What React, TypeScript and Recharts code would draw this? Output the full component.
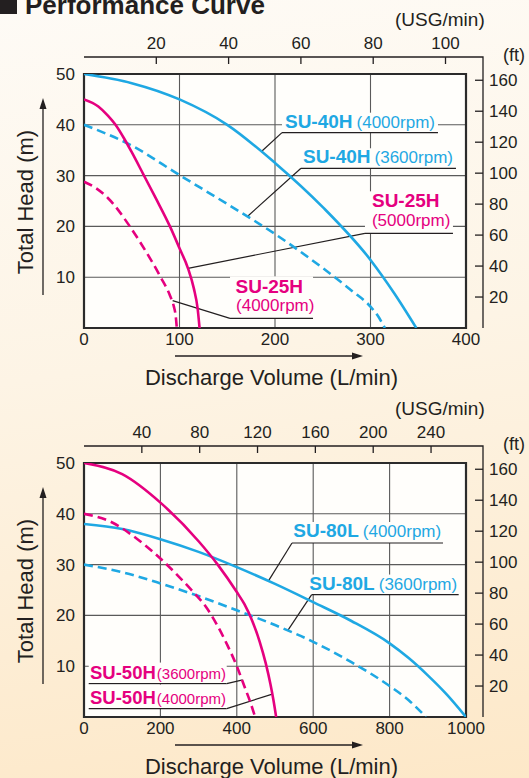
import React from 'react';
import {
  CartesianGrid,
  ComposedChart,
  Line,
  ReferenceArea,
  ReferenceDot,
  ReferenceLine,
  XAxis,
  YAxis,
} from 'recharts';

const CYAN = '#1fa8e3';
const MAGENTA = '#e5007f';
const INK = '#231f20';
const GRID = '#5a5a5a';
const PLOT_BG = '#fffefb';
const FONT = '"Liberation Sans", Arial, Helvetica, sans-serif';

const M_TO_FT = 3.28084;
const L_PER_USG = 3.78541;

// common axes
const HEAD_TICKS = [10, 20, 30, 40, 50];
const FT_TICKS = [20, 40, 60, 80, 100, 120, 140, 160];

// upper chart: SU-40H / SU-25H
const FLOW_TICKS_1 = [0, 100, 200, 300, 400];
const USG_TICKS_1 = [20, 40, 60, 80, 100];

const FLOW_40H_4000 = [0, 50, 100, 150, 200, 250, 300, 325, 348];
const HEAD_40H_4000 = [50, 48.2, 45, 40, 32.5, 23.8, 13.4, 6.8, 0];
const FLOW_40H_3600 = [0, 50, 100, 150, 200, 250, 280, 300, 308, 315];
const HEAD_40H_3600 = [40, 35.9, 30.1, 24.4, 18.5, 11.8, 7.4, 4.2, 2.3, 0];
const FLOW_25H_5000 = [0, 15, 25, 33, 42, 50, 62, 75, 90, 100, 109, 115, 119, 121];
const HEAD_25H_5000 = [45, 43.6, 41.8, 40, 37.3, 34.6, 30.3, 25.6, 20, 15.7, 11.7, 7.8, 3.8, 0];
const FLOW_25H_4000 = [0, 12, 25, 48, 65, 80, 90, 94, 96, 97.2];
const HEAD_25H_4000 = [28.8, 27.6, 25.6, 20, 15, 10.1, 6.4, 4.3, 2.4, 0];

// lower chart: SU-80L / SU-50H
const FLOW_TICKS_2 = [0, 200, 400, 600, 800, 1000];
const USG_TICKS_2 = [40, 80, 120, 160, 200, 240];

const FLOW_80L_4000 = [0, 100, 200, 300, 400, 500, 600, 700, 800, 850, 900, 950, 1000];
const HEAD_80L_4000 = [38, 37, 35, 32.5, 29.5, 26.2, 22.6, 18.9, 14.5, 11.6, 8.2, 4.4, 0];
const FLOW_80L_3600 = [0, 100, 200, 300, 400, 500, 600, 700, 800, 850, 895];
const HEAD_80L_3600 = [30, 28.5, 26.3, 23.8, 21, 18.1, 14.8, 10.8, 6.1, 3.3, 0];
const FLOW_50H_4000 = [0, 100, 200, 300, 350, 400, 420, 440, 460, 476, 488, 496, 503];
const HEAD_50H_4000 = [50, 47.8, 42.2, 34.6, 30, 24.6, 22.2, 19, 14.8, 10.5, 6.5, 3.3, 0];
const FLOW_50H_3600 = [0, 68, 140, 200, 250, 286, 320, 347, 375, 400, 421, 435, 448];
const HEAD_50H_3600 = [40, 38.5, 35, 31.2, 27.5, 24.6, 21.6, 18.3, 14.2, 10, 5.8, 3, 0];

const pts = (q: number[], h: number[]) => q.map((v, i) => ({ q: v, h: h[i] }));

// layout
const W = 529;
const LEFT_W = 84;
const RIGHT_W = 63;
const TOP_H = 74;
const PLOT_H = 254;
const BOTTOM_H = 30;
const CHART_H = TOP_H + PLOT_H + BOTTOM_H;
const OFF = 17; // gap between plot frame and the USG / ft scales
const PLOT_L = LEFT_W;
const PLOT_R = W - RIGHT_W;
const CHART_TOPS = [0, 389];

// USG/min scale on top, drawn from the flow scale
const usgTickShape = (value: number) => (props: any) => {
  const { x1, y1, y2 } = props;
  const ay = Math.min(y1, y2) - OFF;
  return (
    <g>
      <line x1={x1} x2={x1} y1={ay} y2={ay + 7} stroke={INK} strokeWidth={1.3} />
      <text x={x1} y={ay - 8.5} textAnchor="middle" fontSize={17} fill={INK} fontFamily={FONT}>
        {value}
      </text>
    </g>
  );
};

const RightTick = (props: any) => {
  const { x, y, payload } = props;
  const ax = x + OFF;
  return (
    <g>
      <line x1={ax - 8} x2={ax} y1={y} y2={y} stroke={INK} strokeWidth={1.3} />
      <text x={ax + 6} y={y} dy="0.36em" textAnchor="start" fontSize={17} fill={INK} fontFamily={FONT}>
        {payload.value}
      </text>
    </g>
  );
};

interface Row {
  dx: number;
  dy: number;
  name?: string;
  rpm?: string;
  nameSize?: number;
  rpmSize?: number;
  gap?: number;
}

interface Callout {
  at: [number, number];
  to: [number, number];
  len: number;
  boxH: number;
  color: string;
  rows: Row[];
}

const LABELS_1: Callout[] = [
  { at: [207.3, 38.45], to: [186.4, 34.84], len: 156, boxH: 20, color: CYAN,
    rows: [{ dx: 3, dy: -5, name: 'SU-40H', rpm: '(4000rpm)' }] },
  { at: [227.2, 31.44], to: [171.7, 22.05], len: 155, boxH: 20, color: CYAN,
    rows: [{ dx: 2, dy: -5.5, name: 'SU-40H', rpm: '(3600rpm)' }] },
  { at: [294.2, 18.64], to: [108.9, 11.75], len: 88, boxH: 42, color: MAGENTA,
    rows: [{ dx: 7, dy: -26.6, name: 'SU-25H' }, { dx: 7, dy: -7.5, rpm: '(5000rpm)', gap: 0 }] },
  { at: [152.9, 1.9], to: [92.8, 5.4], len: 83, boxH: 42, color: MAGENTA,
    rows: [{ dx: 5.5, dy: -25, name: 'SU-25H' }, { dx: 6, dy: -7, rpm: '(4000rpm)', gap: 0 }] },
];

const LABELS_2: Callout[] = [
  { at: [544.5, 34.25], to: [482.5, 26.74], len: 151, boxH: 21, color: CYAN,
    rows: [{ dx: 1.3, dy: -6, name: 'SU-80L', rpm: '(4000rpm)' }] },
  { at: [596, 24.1], to: [533.2, 17.0], len: 147, boxH: 20, color: CYAN,
    rows: [{ dx: -2.4, dy: -4.5, name: 'SU-80L', rpm: '(3600rpm)' }] },
  { at: [373.6, 6.58], to: [415.4, 7.3], len: -138, boxH: 21, color: MAGENTA,
    rows: [{ dx: -136.7, dy: -5, name: 'SU-50H', rpm: '(3600rpm)', nameSize: 18.5, rpmSize: 15, gap: 1 }] },
  { at: [373.6, 1.64], to: [493, 4.5], len: -138, boxH: 24, color: MAGENTA,
    rows: [{ dx: -136.7, dy: -4.5, name: 'SU-50H', rpm: '(4000rpm)', nameSize: 18.5, rpmSize: 15, gap: 1 }] },
];

const calloutShape = (c: Callout) => (props: any) => {
  const { cx, cy } = props;
  const x0 = c.len > 0 ? cx : cx + c.len;
  const w = Math.abs(c.len);
  return (
    <g>
      <rect x={x0} y={cy - c.boxH} width={w} height={c.boxH} fill={PLOT_BG} />
      <line x1={x0} x2={x0 + w} y1={cy} y2={cy} stroke={INK} strokeWidth={1.2} />
      {c.rows.map((r, i) => (
        <text key={i} x={cx + r.dx} y={cy + r.dy} fill={c.color} fontFamily={FONT}>
          {r.name && (
            <tspan fontWeight="bold" fontSize={r.nameSize ?? 19}>
              {r.name}
            </tspan>
          )}
          {r.rpm && (
            <tspan fontSize={r.rpmSize ?? 17} dx={r.name ? r.gap ?? 4 : 0}>
              {r.rpm}
            </tspan>
          )}
        </text>
      ))}
    </g>
  );
};

interface Series {
  name: string;
  data: { q: number; h: number }[];
  color: string;
  dashed: boolean;
}

interface PumpChartProps {
  maxFlow: number;
  flowTicks: number[];
  usgTicks: number[];
  series: Series[];
  labels: Callout[];
}

const PumpChart: React.FC<PumpChartProps> = ({ maxFlow, flowTicks, usgTicks, series, labels }) => (
  <ComposedChart width={W} height={CHART_H} margin={{ top: TOP_H, right: 0, bottom: 0, left: 0 }}>
    <CartesianGrid
      xAxisId="q"
      yAxisId="m"
      stroke={GRID}
      strokeWidth={1.1}
      fill={PLOT_BG}
      fillOpacity={1}
    />
    <XAxis
      xAxisId="q"
      dataKey="q"
      type="number"
      domain={[0, maxFlow]}
      ticks={flowTicks}
      interval={0}
      allowDataOverflow
      height={BOTTOM_H}
      axisLine={false}
      tickLine={false}
      tickSize={0}
      tickMargin={5}
      tick={{ fontSize: 17, fill: INK, fontFamily: FONT }}
    />
    <YAxis
      yAxisId="m"
      type="number"
      domain={[0, 50]}
      ticks={HEAD_TICKS}
      interval={0}
      allowDataOverflow
      width={LEFT_W}
      axisLine={false}
      tickLine={false}
      tickSize={0}
      tickMargin={9}
      tick={{ fontSize: 17, fill: INK, fontFamily: FONT }}
    />
    <YAxis
      yAxisId="ft"
      orientation="right"
      type="number"
      domain={[0, 50 * M_TO_FT]}
      ticks={FT_TICKS}
      interval={0}
      allowDataOverflow
      width={RIGHT_W}
      axisLine={false}
      tickLine={false}
      tickSize={0}
      tickMargin={0}
      tick={(p: any) => <RightTick {...p} />}
    />
    {usgTicks.map((u) => (
      <ReferenceLine
        key={`usg${u}`}
        xAxisId="q"
        yAxisId="m"
        x={u * L_PER_USG}
        ifOverflow="visible"
        shape={usgTickShape(u)}
      />
    ))}
    {labels.map((c, i) => (
      <ReferenceDot
        key={`lab${i}`}
        xAxisId="q"
        yAxisId="m"
        x={c.at[0]}
        y={c.at[1]}
        r={0}
        ifOverflow="visible"
        shape={calloutShape(c)}
      />
    ))}
    {labels.map((c, i) => (
      <ReferenceLine
        key={`lead${i}`}
        xAxisId="q"
        yAxisId="m"
        segment={[
          { x: c.at[0], y: c.at[1] },
          { x: c.to[0], y: c.to[1] },
        ]}
        stroke={INK}
        strokeWidth={1.2}
        ifOverflow="visible"
      />
    ))}
    {series.map((s) => (
      <Line
        key={s.name}
        xAxisId="q"
        yAxisId="m"
        data={s.data}
        dataKey="h"
        name={s.name}
        type="monotone"
        stroke={s.color}
        strokeWidth={2.6}
        strokeDasharray={s.dashed ? '9 5' : undefined}
        dot={false}
        activeDot={false}
        isAnimationActive={false}
      />
    ))}
    <ReferenceArea
      xAxisId="q"
      yAxisId="m"
      x1={0}
      x2={maxFlow}
      y1={0}
      y2={50}
      fill="none"
      stroke="#2b2b2b"
      strokeWidth={2.2}
      ifOverflow="visible"
    />
  </ComposedChart>
);

const Decor: React.FC<{ top: number }> = ({ top }) => {
  const p = top + TOP_H;
  return (
    <g fontFamily={FONT} fill={INK}>
      <text x={395} y={p - 48.5} fontSize={19}>(USG/min)</text>
      <text x={503} y={p - 13} fontSize={18}>(ft)</text>
      <polyline
        points={`${PLOT_L},${p - OFF} ${PLOT_R + OFF},${p - OFF} ${PLOT_R + OFF},${p + PLOT_H}`}
        fill="none"
        stroke={INK}
        strokeWidth={1.3}
      />
      <text
        x={33}
        y={p + 128}
        fontSize={22}
        textAnchor="middle"
        transform={`rotate(-90 33 ${p + 128})`}
      >
        Total Head (m)
      </text>
      <line x1={43} x2={43} y1={p + 221} y2={p + 32} stroke={INK} strokeWidth={1.3} />
      <polygon points={`43,${p + 24} 39.5,${p + 35} 46.5,${p + 35}`} fill={INK} />
      <line x1={175} x2={354} y1={p + 282} y2={p + 282} stroke={INK} strokeWidth={1.3} />
      <polygon points={`363,${p + 282} 352,${p + 278.5} 352,${p + 285.5}`} fill={INK} />
      <text x={271.5} y={p + 311} fontSize={22} textAnchor="middle">
        Discharge Volume (L/min)
      </text>
    </g>
  );
};

const SERIES_1: Series[] = [
  { name: 'SU-40H 4000rpm', data: pts(FLOW_40H_4000, HEAD_40H_4000), color: CYAN, dashed: false },
  { name: 'SU-40H 3600rpm', data: pts(FLOW_40H_3600, HEAD_40H_3600), color: CYAN, dashed: true },
  { name: 'SU-25H 5000rpm', data: pts(FLOW_25H_5000, HEAD_25H_5000), color: MAGENTA, dashed: false },
  { name: 'SU-25H 4000rpm', data: pts(FLOW_25H_4000, HEAD_25H_4000), color: MAGENTA, dashed: true },
];

const SERIES_2: Series[] = [
  { name: 'SU-80L 4000rpm', data: pts(FLOW_80L_4000, HEAD_80L_4000), color: CYAN, dashed: false },
  { name: 'SU-80L 3600rpm', data: pts(FLOW_80L_3600, HEAD_80L_3600), color: CYAN, dashed: true },
  { name: 'SU-50H 4000rpm', data: pts(FLOW_50H_4000, HEAD_50H_4000), color: MAGENTA, dashed: false },
  { name: 'SU-50H 3600rpm', data: pts(FLOW_50H_3600, HEAD_50H_3600), color: MAGENTA, dashed: true },
];

export default function App() {
  return (
    <div
      style={{
        position: 'relative',
        width: W,
        height: 778,
        overflow: 'hidden',
        background: 'linear-gradient(172deg, #fefbf6 0%, #fdf4e5 45%, #fde8c8 100%)',
        fontFamily: FONT,
      }}
    >
      <style>{'body{margin:0}'}</style>
      <div style={{ position: 'absolute', left: 0, top: CHART_TOPS[0] }}>
        <PumpChart
          maxFlow={400}
          flowTicks={FLOW_TICKS_1}
          usgTicks={USG_TICKS_1}
          series={SERIES_1}
          labels={LABELS_1}
        />
      </div>
      <div style={{ position: 'absolute', left: 0, top: CHART_TOPS[1] }}>
        <PumpChart
          maxFlow={1000}
          flowTicks={FLOW_TICKS_2}
          usgTicks={USG_TICKS_2}
          series={SERIES_2}
          labels={LABELS_2}
        />
      </div>
      <svg
        width={W}
        height={778}
        style={{ position: 'absolute', left: 0, top: 0, pointerEvents: 'none' }}
      >
        <rect x={0} y={-3} width={17} height={17} fill={INK} />
        <text x={25} y={13.5} fontSize={26} fontWeight="bold" fill={INK} fontFamily={FONT}>
          Performance Curve
        </text>
        <Decor top={CHART_TOPS[0]} />
        <Decor top={CHART_TOPS[1]} />
      </svg>
    </div>
  );
}
